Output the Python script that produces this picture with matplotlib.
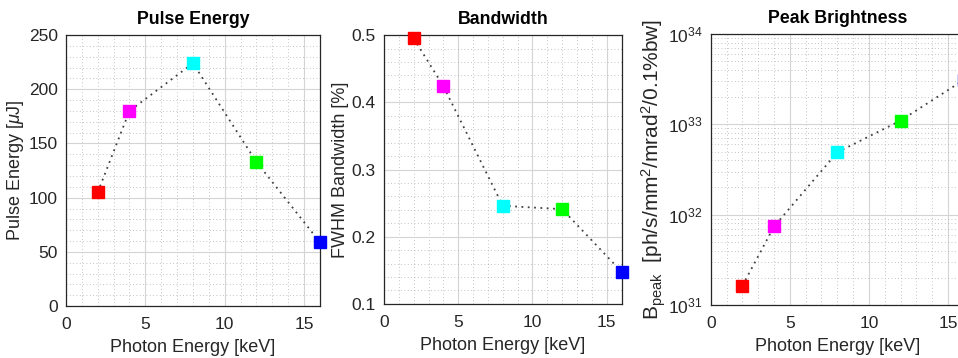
import matplotlib.pyplot as plt
from matplotlib.ticker import MultipleLocator, LogLocator, NullFormatter

plt.rcParams['font.family'] = ['Liberation Sans', 'DejaVu Sans']
plt.rcParams['mathtext.fontset'] = 'custom'
plt.rcParams['mathtext.rm'] = 'Liberation Sans'
plt.rcParams['mathtext.it'] = 'Liberation Sans:italic'

# photon energies [keV] and marker colours
photon_energy = [2, 4, 8, 12, 16]
colors = ['#ff0000', '#ff00ff', '#00ffff', '#00ff00', '#0000ff']

# values
pulse_energy = [105, 180, 224, 133, 59]
bandwidth = [0.495, 0.424, 0.246, 0.241, 0.148]
peak_brightness = [1.64e31, 7.4e31, 4.9e32, 1.1e33, 3.1e33]

fig = plt.figure(figsize=(9.58, 3.58), dpi=100)
ax1 = fig.add_axes([0.0689, 0.145, 0.265, 0.757])
ax2 = fig.add_axes([0.4008, 0.151, 0.248, 0.751])
ax3 = fig.add_axes([0.742, 0.148, 0.264, 0.757])

text_col = '#262626'
lab_size = 13


def style(ax):
    ax.set_xlim(0, 16)
    ax.xaxis.set_major_locator(MultipleLocator(5))
    ax.xaxis.set_minor_locator(MultipleLocator(1))
    ax.grid(True, which='major', color='#d4d4d4', linewidth=0.8)
    ax.grid(True, which='minor', color='#b0b0b0', linestyle=(0, (1, 3)), linewidth=0.6)
    ax.set_axisbelow(True)
    ax.tick_params(which='both', direction='in', colors=text_col, labelsize=12.5, length=0)
    ax.tick_params(axis='x', pad=8)
    ax.tick_params(axis='y', pad=6)
    for s in ax.spines.values():
        s.set_color(text_col)
        s.set_linewidth(0.9)
    ax.set_xlabel('Photon Energy [keV]', fontsize=lab_size, color=text_col, labelpad=5)


def draw(ax, y):
    ax.plot(photon_energy, y, linestyle=(0, (1, 2.5)), color='#404040', linewidth=1.3, zorder=2)
    for xv, yv, c in zip(photon_energy, y, colors):
        ax.plot(xv, yv, marker='s', markersize=8, color=c, markeredgecolor=c, zorder=3,
                clip_on=False)


# Pulse energy
draw(ax1, pulse_energy)
style(ax1)
ax1.set_ylim(0, 250)
ax1.yaxis.set_major_locator(MultipleLocator(50))
ax1.yaxis.set_minor_locator(MultipleLocator(10))
ax1.set_ylabel(r'Pulse Energy [$\mu$J]', fontsize=lab_size, color=text_col, labelpad=2)
ax1.set_title('Pulse Energy', fontsize=12.8, fontweight='bold', pad=8)

# Bandwidth
draw(ax2, bandwidth)
style(ax2)
ax2.set_ylim(0.1, 0.5)
ax2.yaxis.set_major_locator(MultipleLocator(0.1))
ax2.yaxis.set_minor_locator(MultipleLocator(0.02))
ax2.set_ylabel('FWHM Bandwidth [%]', fontsize=lab_size, color=text_col, labelpad=2)
ax2.set_title('Bandwidth', fontsize=12.8, fontweight='bold', pad=8)

# Peak brightness
draw(ax3, peak_brightness)
style(ax3)
ax3.set_yscale('log')
ax3.set_ylim(1e31, 1e34)
ax3.yaxis.set_minor_locator(LogLocator(base=10, subs=range(2, 10)))
ax3.yaxis.set_minor_formatter(NullFormatter())
ax3.grid(True, which='major', color='#d4d4d4', linewidth=0.8)
ax3.grid(True, which='minor', color='#b0b0b0', linestyle=(0, (1, 3)), linewidth=0.6)
ax3.set_ylabel(r'B$_{\rm peak}$  [ph/s/mm$^2$/mrad$^2$/0.1%bw]', fontsize=15,
               color=text_col, labelpad=0)
ax3.set_title('Peak Brightness', fontsize=12.8, fontweight='bold', pad=8)

fig.savefig('out.png', dpi=100)
